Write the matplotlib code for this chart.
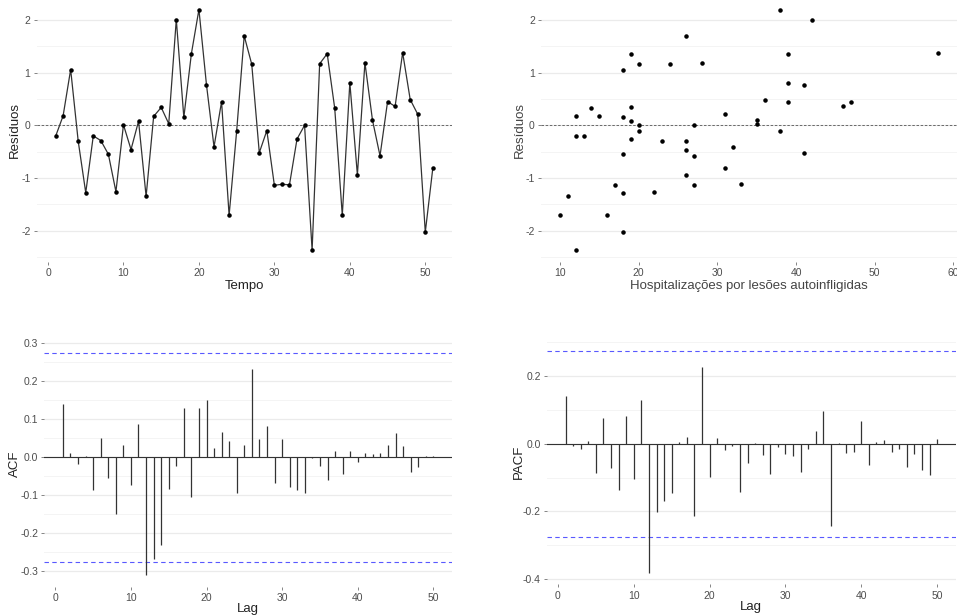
import numpy as np
import matplotlib.pyplot as plt

plt.rcParams['font.family'] = ['Liberation Sans', 'DejaVu Sans']
plt.rcParams['axes.unicode_minus'] = False

# residuos do modelo, em ordem temporal
tempo = np.arange(1, 52)
residuos = [-0.21, 0.18, 1.06, -0.30, -1.28, -0.20, -0.29, -0.55, -1.26, 0.01,
            -0.46, 0.08, -1.35, 0.17, 0.34, 0.03, 2.01, 0.15, 1.36, 2.20,
            0.77, -0.41, 0.45, -1.71, -0.11, 1.70, 1.16, -0.52, -0.10, -1.14,
            -1.12, -1.13, -0.26, 0.00, -2.37, 1.17, 1.36, 0.32, -1.71, 0.81,
            -0.94, 1.19, 0.10, -0.58, 0.45, 0.36, 1.38, 0.49, 0.21, -2.03, -0.81]
hosp = [12, 12, 18, 23, 18, 13, 26, 18, 22, 20,
        26, 19, 11, 15, 19, 35, 42, 18, 19, 38,
        41, 32, 39, 10, 20, 26, 20, 41, 38, 17,
        33, 27, 19, 27, 12, 24, 39, 14, 16, 39,
        26, 28, 35, 27, 47, 46, 58, 36, 31, 18, 31]

lags = np.arange(1, 51)
acf = [0.139, 0.011, -0.017, 0.002, -0.087, 0.051, -0.054, -0.150, 0.031, -0.072,
       0.087, -0.311, -0.268, -0.230, -0.085, -0.024, 0.129, -0.106, 0.128, 0.149,
       0.024, 0.067, 0.042, -0.095, 0.031, 0.232, 0.047, 0.083, -0.069, 0.049,
       -0.079, -0.087, -0.095, -0.002, -0.023, -0.061, 0.017, -0.044, 0.016, -0.013,
       0.010, 0.007, 0.010, 0.031, 0.063, 0.030, -0.039, -0.026, 0.003, 0.002]
pacf = [0.141, -0.007, -0.016, 0.007, -0.087, 0.077, -0.071, -0.138, 0.082, -0.103,
        0.128, -0.383, -0.203, -0.168, -0.145, 0.005, 0.021, -0.215, 0.226, -0.097,
        0.016, -0.018, -0.008, -0.142, -0.056, 0.001, -0.033, -0.089, -0.011, -0.031,
        -0.037, -0.085, -0.017, 0.039, 0.097, -0.242, 0.001, -0.028, -0.024, 0.067,
        -0.062, 0.005, 0.011, -0.026, -0.017, -0.068, -0.029, -0.078, -0.094, 0.013]
limite = 1.96 / np.sqrt(len(residuos))
azul = (0.35, 0.35, 1.0)

W, H = 957, 615
fig = plt.figure(figsize=(W / 100, H / 100), dpi=100)


def painel(x0, x1, y0, y1):
    # posicao em pixels -> fracao da figura
    return fig.add_axes([x0 / W, 1 - y1 / H, (x1 - x0) / W, (y1 - y0) / H])


def estilo(ax, major, minor):
    for s in ax.spines.values():
        s.set_visible(False)
    ax.set_yticks(major)
    ax.set_yticks(minor, minor=True)
    ax.grid(axis='y', which='major', color='#EBEBEB', lw=0.9, zorder=0)
    ax.grid(axis='y', which='minor', color='#F2F2F2', lw=0.6, zorder=0)
    ax.grid(axis='x', visible=False)
    ax.tick_params(which='major', length=2.5, width=0.5, color='#555555',
                   labelsize=7.5, labelcolor='#4D4D4D', pad=2)
    ax.tick_params(which='minor', length=0)
    ax.set_axisbelow(True)


def rotulo_y(ax, texto, x, cor='#222222'):
    ax.set_ylabel(texto, fontsize=9.5, color=cor, va='center')
    ax.yaxis.set_label_coords(x, 0.5)


ax1 = painel(36.7, 451.7, -2.6, 262.2)
ax1.plot(tempo, residuos, color='#333333', lw=0.9, zorder=3)
ax1.scatter(tempo, residuos, s=5, color='black', zorder=4)
ax1.axhline(0, color='#555555', lw=0.6, ls=(0, (3, 2)), zorder=2)
ax1.set_xlim(-1.5, 53.5)
ax1.set_ylim(-2.6, 2.43)
ax1.set_xticks([0, 10, 20, 30, 40, 50])
estilo(ax1, [-2, -1, 0, 1, 2], [-2.5, -1.5, -0.5, 0.5, 1.5])
ax1.set_xlabel('Tempo', fontsize=9.5, color='#222222', labelpad=1)
rotulo_y(ax1, 'Resíduos', -0.052)

ax2 = painel(541.1, 956.6, -2.6, 262.2)
ax2.scatter(hosp, residuos, s=5, color='black', zorder=4)
ax2.axhline(0, color='#555555', lw=0.6, ls=(0, (3, 2)), zorder=2)
ax2.set_xlim(7.6, 60.4)
ax2.set_ylim(-2.6, 2.43)
ax2.set_xticks([10, 20, 30, 40, 50, 60])
estilo(ax2, [-2, -1, 0, 1, 2], [-2.5, -1.5, -0.5, 0.5, 1.5])
ax2.set_xlabel('Hospitalizações por lesões autoinfligidas', fontsize=9.5,
               color='#444444', labelpad=1)
rotulo_y(ax2, 'Resíduos', -0.051, '#444444')

ax3 = painel(44.3, 451.9, 341.5, 586.5)
ax3.vlines(lags, 0, acf, color='#333333', lw=0.9, zorder=3)
ax3.axhline(0, color='#333333', lw=0.8, zorder=2)
for v in (limite, -limite):
    ax3.axhline(v, color=azul, lw=0.8, ls=(0, (4, 3)), zorder=2)
ax3.set_xlim(-1.45, 52.45)
ax3.set_ylim(-0.340, 0.304)
ax3.set_xticks([0, 10, 20, 30, 40, 50])
estilo(ax3, [-0.3, -0.2, -0.1, 0.0, 0.1, 0.2, 0.3],
       [-0.25, -0.15, -0.05, 0.05, 0.15, 0.25])
ax3.set_yticklabels(['-0.3', '-0.2', '-0.1', '0.0', '0.1', '0.2', '0.3'])
ax3.set_xlabel('Lag', fontsize=9.5, color='#222222', labelpad=0)
rotulo_y(ax3, 'ACF', -0.072)

ax4 = painel(547.0, 955.7, 339.2, 584.4)
ax4.vlines(lags, 0, pacf, color='#333333', lw=0.9, zorder=3)
ax4.axhline(0, color='#333333', lw=0.8, zorder=2)
for v in (limite, -limite):
    ax4.axhline(v, color=azul, lw=0.8, ls=(0, (4, 3)), zorder=2)
ax4.set_xlim(-1.45, 52.45)
ax4.set_ylim(-0.416, 0.309)
ax4.set_xticks([0, 10, 20, 30, 40, 50])
estilo(ax4, [-0.4, -0.2, 0.0, 0.2], [-0.3, -0.1, 0.1, 0.3])
ax4.set_yticklabels(['-0.4', '-0.2', '0.0', '0.2'])
ax4.set_xlabel('Lag', fontsize=9.5, color='#222222', labelpad=0)
rotulo_y(ax4, 'PACF', -0.070)

fig.savefig('out.png', dpi=100, facecolor='white')
